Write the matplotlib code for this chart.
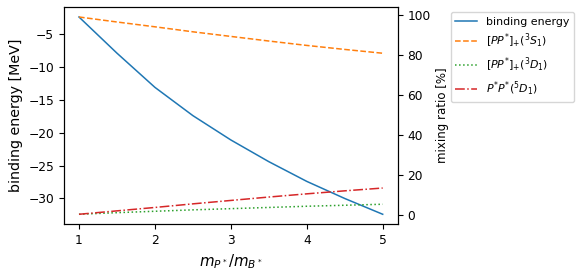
import matplotlib
matplotlib.use("Agg")
import matplotlib.pyplot as plt

# mass ratio m_P*/m_B*
ratio = [1.0, 1.5, 2.0, 2.5, 3.0, 3.5, 4.0, 4.5, 5.0]

# binding energy [MeV]
binding = [-2.4, -7.9, -13.1, -17.4, -21.1, -24.4, -27.4, -30.0, -32.4]

# mixing ratios [%]
mix_3s1 = [99.0, 96.5, 94.1, 91.6, 89.3, 87.0, 84.8, 82.8, 80.9]
mix_3d1 = [0.5, 1.3, 2.0, 2.7, 3.3, 3.9, 4.5, 5.0, 5.5]
mix_5d1 = [0.5, 2.2, 3.9, 5.7, 7.4, 9.1, 10.7, 12.2, 13.6]

fig = plt.figure(figsize=(5.8, 2.74), dpi=100)
ax = fig.add_axes([0.110, 0.182, 0.576, 0.792])
ax2 = ax.twinx()

l1, = ax.plot(ratio, binding, color="C0", lw=1.1, label="binding energy")
l2, = ax2.plot(ratio, mix_3s1, color="C1", ls="--", lw=1.1, label=r"$[PP^{*}]_{+}(^3S_1)$")
l3, = ax2.plot(ratio, mix_3d1, color="C2", ls=":", lw=1.1, label=r"$[PP^{*}]_{+}(^3D_1)$")
l4, = ax2.plot(ratio, mix_5d1, color="C3", ls="-.", lw=1.1, label=r"$P^{*}P^{*}(^5D_1)$")

ax.set_xticks([1, 2, 3, 4, 5])
ax.tick_params(labelsize=8.8)
ax2.tick_params(labelsize=8.8)
ax2.set_yticks([0, 20, 40, 60, 80, 100])

ax.set_xlabel(r"$m_{P^*}/m_{B^*}$", fontsize=10.8)
ax.set_ylabel("binding energy [MeV]", fontsize=10.3)
ax2.set_ylabel("mixing ratio [%]", fontsize=8.5)

ax.legend(handles=[l1, l2, l3, l4], loc="upper left",
          bbox_to_anchor=(1.159, 0.977), borderaxespad=0, fontsize=7.9)

fig.savefig("out.png", dpi=100)
